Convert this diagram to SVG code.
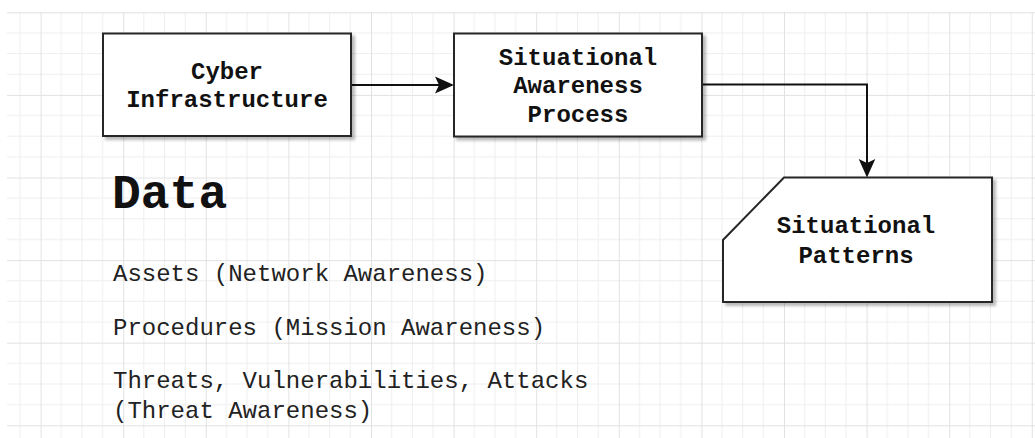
<svg xmlns="http://www.w3.org/2000/svg" width="1035" height="438" viewBox="0 0 1035 438">
  <style>
    .box { fill: #ffffff; stroke: #262626; stroke-width: 2; }
    .lbl { font-family: "Liberation Mono", "Courier New", monospace; font-weight: bold; font-size: 24px; fill: #111111; text-anchor: middle; }
    .txt { font-family: "Liberation Mono", "Courier New", monospace; font-size: 24px; fill: #222222; }
    .head { font-family: "Liberation Mono", "Courier New", monospace; font-weight: bold; font-size: 48px; fill: #111111; }
    .edge { fill: none; stroke: #111111; stroke-width: 2; }
    .head-arrow { fill: #111111; stroke: none; }
  </style>
  <defs>
    <pattern id="grid" patternUnits="userSpaceOnUse" x="40.6" y="12.3" width="82.6" height="82.6">
      <rect x="20.15" y="0" width="1" height="82.6" fill="#eeeeee"/>
      <rect x="40.8" y="0" width="1" height="82.6" fill="#eeeeee"/>
      <rect x="61.45" y="0" width="1" height="82.6" fill="#eeeeee"/>
      <rect x="0" y="20.15" width="82.6" height="1" fill="#eeeeee"/>
      <rect x="0" y="40.8" width="82.6" height="1" fill="#eeeeee"/>
      <rect x="0" y="61.45" width="82.6" height="1" fill="#eeeeee"/>
      <rect x="0" y="0" width="1" height="82.6" fill="#e2e2e2"/>
      <rect x="0" y="0" width="82.6" height="1" fill="#e2e2e2"/>
    </pattern>
    <filter id="shadow" x="-10%" y="-10%" width="130%" height="130%">
      <feDropShadow dx="3" dy="3" stdDeviation="1.5" flood-color="#000000" flood-opacity="0.28"/>
    </filter>
  </defs>

  <rect x="0" y="0" width="1035" height="438" fill="#ffffff"/>
  <rect x="7" y="12" width="1028" height="426" fill="url(#grid)"/>

  <g id="connectors">
    <path class="edge" d="M351,85 H440"/>
    <path class="head-arrow" d="M454,85 L435,76.5 L439,85 L435,93.5 Z"/>
    <path class="edge" d="M702,84.5 H867 V163"/>
    <path class="head-arrow" d="M867,177.5 L858.7,159 L867,163 L875.3,159 Z"/>
  </g>

  <g id="node-cyber-infrastructure">
    <rect class="box" x="103" y="33.5" width="248" height="102.5" filter="url(#shadow)"/>
    <text class="lbl" x="227" y="79">Cyber</text>
    <text class="lbl" x="227" y="106.5">Infrastructure</text>
  </g>

  <g id="node-situational-awareness-process">
    <rect class="box" x="454" y="33.5" width="248" height="103" filter="url(#shadow)"/>
    <text class="lbl" x="578" y="64.5">Situational</text>
    <text class="lbl" x="578" y="93">Awareness</text>
    <text class="lbl" x="578" y="121.5">Process</text>
  </g>

  <g id="node-situational-patterns">
    <path class="box" d="M784,177.5 H992 V302 H723 V240 Z" filter="url(#shadow)"/>
    <text class="lbl" x="856" y="232.5">Situational</text>
    <text class="lbl" x="856" y="262.5">Patterns</text>
  </g>

  <g id="data-text">
    <text class="head" x="112" y="208">Data</text>
    <text class="txt" x="113" y="281">Assets (Network Awareness)</text>
    <text class="txt" x="113" y="334.5">Procedures (Mission Awareness)</text>
    <text class="txt" x="113" y="388">Threats, Vulnerabilities, Attacks</text>
    <text class="txt" x="113" y="417.5">(Threat Awareness)</text>
  </g>
</svg>
